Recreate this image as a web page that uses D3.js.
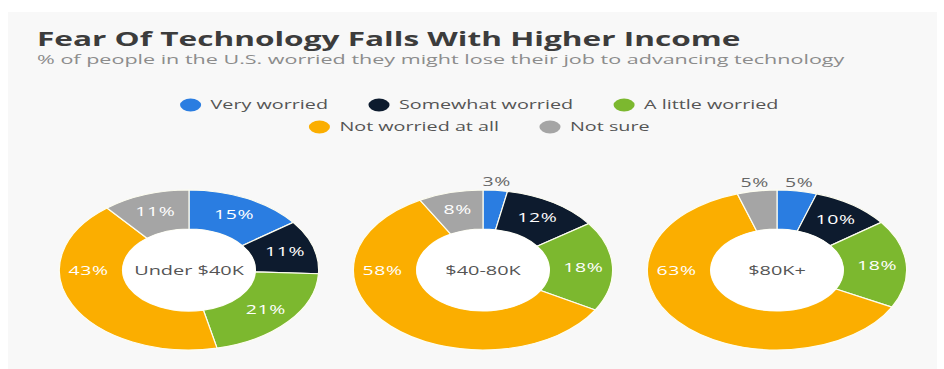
<!DOCTYPE html>
<html>
<head>
<meta charset="utf-8">
<script src="https://cdn.jsdelivr.net/npm/d3@7/dist/d3.min.js"></script>
<style>
  html, body { margin: 0; padding: 0; background: #ffffff; }
  svg { display: block; font-family: "Open Sans", "DejaVu Sans", sans-serif; }
</style>
</head>
<body>
<svg id="chart" width="944" height="369"></svg>
<script>
// Survey answers, one donut per income group
const categories = ["Very worried", "Somewhat worried", "A little worried", "Not worried at all", "Not sure"];
const incomeGroups = ["Under $40K", "$40-80K", "$80K+"];
const under40K = [15, 11, 21, 43, 11];
const from40to80K = [3, 12, 18, 58, 8];
const over80K = [5, 10, 18, 63, 5];
const groupValues = [under40K, from40to80K, over80K];
const colors = ["#2a7de1", "#0d1b2e", "#7cb82f", "#fbae00", "#a5a5a5"];

const title = "Fear Of Technology Falls With Higher Income";
const subtitle = "% of people in the U.S. worried they might lose their job to advancing technology";

// the whole graphic is drawn in a horizontally widened frame
const sx = 1.62;
const X = px => px / sx;

const svg = d3.select("#chart");

// light panel behind everything
svg.append("rect").attr("x", 8).attr("y", 12).attr("width", 929).attr("height", 369)
  .attr("fill", "#f8f8f8");

const root = svg.append("g").attr("transform", `scale(${sx},1)`);

root.append("text").attr("x", X(37)).attr("y", 46)
  .attr("font-size", 19.5).attr("font-weight", 700).attr("fill", "#3c3c3c")
  .text(title);
root.append("text").attr("x", X(37)).attr("y", 64)
  .attr("font-size", 13.3).attr("fill", "#8c8c8c")
  .text(subtitle);

// legend: two centred rows
const color = d3.scaleOrdinal().domain(categories).range(colors);
const legendRows = [categories.slice(0, 3), categories.slice(3)];
const legendY = [105, 127];
const legendCenter = X(481);
const gapText = X(20), gapItem = X(44);
legendRows.forEach((row, ri) => {
  const g = root.append("g");
  let x = 0;
  row.forEach(cat => {
    const item = g.append("g").attr("transform", `translate(${x},0)`);
    item.append("circle").attr("cx", X(7)).attr("cy", 0).attr("r", 6.5).attr("fill", color(cat));
    const t = item.append("text").attr("x", X(7) + gapText).attr("y", 4.3)
      .attr("font-size", 12.2).attr("fill", "#555").text(cat);
    x += X(7) + gapText + t.node().getComputedTextLength() + gapItem;
  });
  const w = x - gapItem;
  g.attr("transform", `translate(${legendCenter - w / 2},${legendY[ri]})`);
});

// donuts
const xScale = d3.scalePoint().domain(incomeGroups).range([X(189), X(777)]);
const cy = 270;
const rOuter = 80, rInner = 41, rLabel = 62;
const pie = d3.pie().sort(null).value(d => d);
const arc = d3.arc().innerRadius(rInner).outerRadius(rOuter);
const LEFT = 1.5 * Math.PI;

// label angle: large slices that reach the left side carry their label there
function labelAngle(d) {
  if (d.value >= 40 && d.startAngle < LEFT && d.endAngle > LEFT) return LEFT;
  return (d.startAngle + d.endAngle) / 2;
}

incomeGroups.forEach((grp, gi) => {
  const g = root.append("g").attr("transform", `translate(${xScale(grp)},${cy})`);
  const arcs = pie(groupValues[gi]);
  g.selectAll("path").data(arcs).join("path")
    .attr("d", arc)
    .attr("fill", (d, i) => colors[i])
    .attr("stroke", "#fdfdf0").attr("stroke-width", 1.2)
    .attr("vector-effect", "non-scaling-stroke");
  g.append("circle").attr("r", rInner).attr("fill", "#ffffff");

  arcs.forEach(d => {
    const a = labelAngle(d);
    const outside = d.value <= 5;
    const r = outside ? rOuter + 9 : rLabel;
    g.append("text")
      .attr("x", Math.sin(a) * r).attr("y", -Math.cos(a) * r + 4.5)
      .attr("text-anchor", "middle")
      .attr("font-size", 12).attr("letter-spacing", 0.4)
      .attr("fill", outside ? "#666" : "#ffffff")
      .text(d.value + "%");
  });

  g.append("text").attr("x", 0).attr("y", 4.5)
    .attr("text-anchor", "middle").attr("font-size", 12.3)
    .attr("fill", "#555").text(grp);
});
</script>
</body>
</html>
